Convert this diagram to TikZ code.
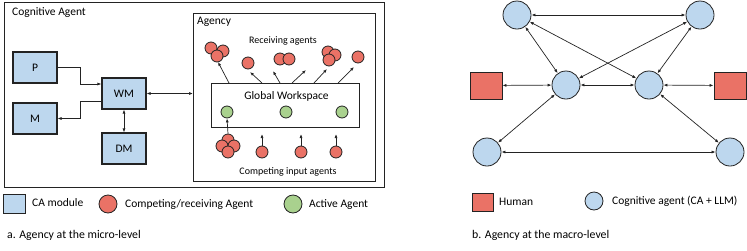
\documentclass[tikz,border=0pt]{standalone}
\usepackage{fontspec}
\setmainfont{Carlito}
\usetikzlibrary{arrows.meta}
\definecolor{cablue}{RGB}{189,215,238}
\definecolor{agred}{RGB}{234,114,102}
\definecolor{actgreen}{RGB}{169,209,142}
\definecolor{ln}{RGB}{35,35,35}
\begin{document}
\begin{tikzpicture}[x=1pt,y=-1pt,
 frame/.style={draw=ln,line width=0.9pt,inner sep=0pt,anchor=north west},
 camod/.style={draw=ln,line width=1.1pt,fill=cablue,minimum width=44pt,minimum height=31pt,inner sep=0pt,font=\fontsize{11.5}{13}\selectfont},
 ag/.style={circle,draw=ln,line width=0.8pt,fill=agred,minimum size=12pt,inner sep=0pt},
 act/.style={circle,draw=ln,line width=0.8pt,fill=actgreen,minimum size=12pt,inner sep=0pt},
 cog/.style={circle,draw=ln,line width=0.8pt,fill=cablue,minimum size=28pt,inner sep=0pt},
 hum/.style={draw=ln,line width=0.9pt,fill=agred,minimum width=32pt,minimum height=27pt,inner sep=0pt},
 conn/.style={draw=ln,line width=0.7pt},
 arr/.style={conn,-{Latex[length=4pt,width=3pt]}},
 darr/.style={conn,{Latex[length=4pt,width=3pt]}-{Latex[length=4pt,width=3pt]}},
 lbl/.style={font=\fontsize{11.5}{13}\selectfont,inner sep=0pt},
 slbl/.style={font=\fontsize{10}{12}\selectfont,inner sep=0pt},
 captext/.style={font=\fontsize{11.8}{13}\selectfont,inner sep=0pt}
]
\useasboundingbox (0,0) rectangle (747,250);
% ---------- micro level ----------
\node[frame,minimum width=380pt,minimum height=185pt] (ca) at (4,2) {};
\node[lbl,anchor=west] (calbl) at (12,12.5) {Cognitive Agent};
\node[frame,minimum width=182pt,minimum height=168pt] (agency) at (193,13) {};
\node[lbl,anchor=west] (aglbl) at (197,22) {Agency};

\node[camod] (P) at (35,67.5) {P};
\node[camod] (M) at (35,118.5) {M};
\node[camod] (WM) at (124,93.5) {WM};
\node[camod] (DM) at (124,148.5) {DM};

\coordinate (pj) at (80,84);
\coordinate (mj) at (80,101);
\draw[arr] (P.east) -| (pj) -- (pj -| WM.west);
\draw[arr] (mj -| WM.west) -- (mj) |- (M.east);
\draw[darr] (WM.south) -- (DM.north);
\draw[darr] (WM.east) -- (WM.east -| agency.west);

% Global workspace
\node[frame,minimum width=148pt,minimum height=44pt] (gw) at (211,83) {};
\node[lbl] (gwlbl) at (286.5,96.5) {Global Workspace};
\node[act] (g1) at (227,112) {};
\node[act] (g2) at (286,112) {};
\node[act] (g3) at (342,112) {};

% receiving agents
\node[slbl] (rlbl) at (283,41) {Receiving agents};
\node[ag] (r1a) at (211,48) {};
\node[ag] (r1b) at (223,51) {};
\node[ag] (r1c) at (217,56) {};
\node[ag] (r2) at (248,63) {};
\node[ag] (r3a) at (280,59) {};
\node[ag] (r3b) at (289,59) {};
\node[ag] (r4a) at (328,52) {};
\node[ag] (r4b) at (335,55) {};
\node[ag] (r4c) at (329,60) {};
\node[ag] (r5) at (358,57) {};

\foreach \i/\sx/\ex/\ey in {1/229/218/62, 2/262/250/72, 3/280/273/71, 4/292/306/70, 5/314/327/69, 6/338/354/67}{
  \coordinate (gs\i) at (\sx,83);
  \coordinate (ge\i) at (\ex,\ey);
  \draw[arr] (gs\i) -- (ge\i);
}

% competing input agents
\node[ag] (c1a) at (228,140) {};
\node[ag] (c1b) at (222,146) {};
\node[ag] (c1c) at (234,146) {};
\node[ag] (c1d) at (228,152) {};
\node[ag] (c2) at (262,152) {};
\node[ag] (c3) at (301,152) {};
\node[ag] (c4) at (336,152) {};
\draw[arr] (c1a.north) -- (g1.south);
\foreach \n/\x in {c2/262,c3/301,c4/336}{
  \coordinate (\n t) at (\x,134);
  \draw[arr] (\n.north) -- (\n t);
}
\node[slbl] (clbl) at (288,172) {Competing input agents};

% legend (micro)
\node[draw=ln,line width=0.9pt,fill=cablue,minimum width=22pt,minimum height=19pt,inner sep=0pt] (lgca) at (14,203.5) {};
\node[lbl,anchor=west] (lgcat) at (32,203) {CA module};
\node[ag,minimum size=18pt] (lgag) at (108,204) {};
\node[lbl,anchor=west] (lgagt) at (125,204) {Competing/receiving Agent};
\node[act,minimum size=18pt] (lgact) at (293,204) {};
\node[lbl,anchor=west] (lgactt) at (309,205) {Active Agent};
\node[captext,anchor=west] (capa) at (7,235) {a. Agency at the micro-level};

% ---------- macro level ----------
\node[cog] (TL) at (517,15) {};
\node[cog] (TR) at (700,15) {};
\node[cog] (ML) at (566,85) {};
\node[cog] (MR) at (649,85) {};
\node[cog] (BL) at (487,152) {};
\node[cog] (BR) at (730,152) {};
\node[hum] (HL) at (486,85.5) {};
\node[hum] (HR) at (730,85.5) {};

\draw[darr] (TL) -- (TR);
\draw[darr] (TL) -- (ML);
\draw[darr] (TL) -- (MR);
\draw[darr] (TR) -- (ML);
\draw[darr] (TR) -- (MR);
\draw[darr] (ML) -- (MR);
\draw[darr] (ML) -- (BL);
\draw[darr] (MR) -- (BR);
\draw[darr] (BL) -- (BR);
\draw[darr] (HL) -- (ML);
\draw[darr] (MR) -- (HR);

% legend (macro)
\node[draw=ln,line width=0.9pt,fill=agred,minimum width=21pt,minimum height=18pt,inner sep=0pt] (lghum) at (482.5,202) {};
\node[lbl,anchor=west] (lghumt) at (499,202) {Human};
\node[cog,minimum size=18pt] (lgcog) at (594,201) {};
\node[lbl,anchor=west] (lgcogt) at (612,201) {Cognitive agent (CA + LLM)};
\node[captext,anchor=west] (capb) at (472,235) {b. Agency at the macro-level};
\end{tikzpicture}
\end{document}
